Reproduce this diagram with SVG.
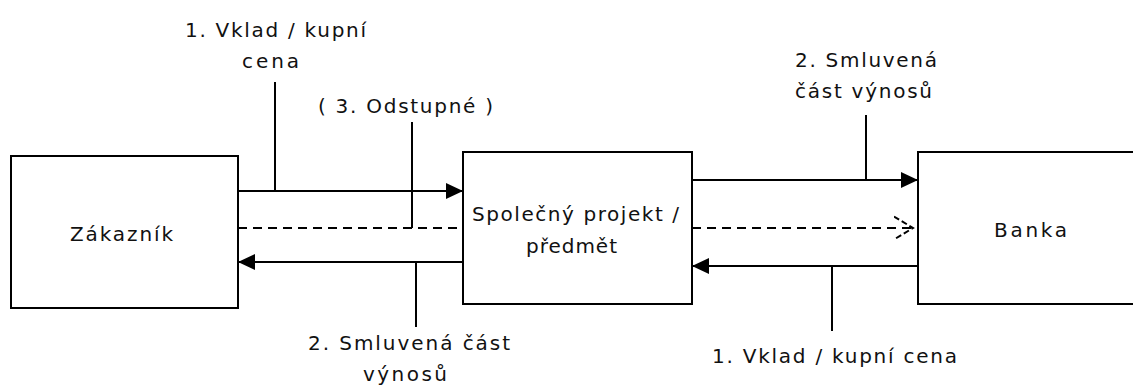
<svg xmlns="http://www.w3.org/2000/svg" width="1133" height="385" viewBox="0 0 1133 385">
  <defs>
    <style>
      .box { fill: #ffffff; stroke: #000000; stroke-width: 2; }
      .flow { fill: none; stroke: #000000; stroke-width: 2; }
      .dash { fill: none; stroke: #000000; stroke-width: 2; stroke-dasharray: 9 6; }
      .lbl { font-family: "DejaVu Sans", "Liberation Sans", Arial, sans-serif; font-size: 20px; fill: #111111; }
    </style>
    <marker id="solidHead" viewBox="0 0 17 17" markerWidth="17" markerHeight="17" refX="17" refY="8.5" orient="auto" markerUnits="userSpaceOnUse">
      <path d="M0,0.5 L17,8.5 L0,16.5 Z" fill="#000000"/>
    </marker>
    <marker id="openHead" viewBox="0 0 26 26" markerWidth="26" markerHeight="26" refX="24" refY="13" orient="auto" markerUnits="userSpaceOnUse">
      <path d="M0,1.5 L19,13 L0,24.5" fill="none" stroke="#000000" stroke-width="2" stroke-dasharray="6 3"/>
    </marker>
  </defs>

  <rect width="1133" height="385" fill="#ffffff"/>

  <!-- participants -->
  <g id="node-zakaznik">
    <rect class="box" x="11" y="156" width="227" height="152"/>
    <text class="lbl" x="70" y="241" textLength="103" lengthAdjust="spacing">Zákazník</text>
  </g>
  <g id="node-projekt">
    <rect class="box" x="463" y="152" width="229" height="152"/>
    <text class="lbl" x="472" y="221" textLength="207" lengthAdjust="spacing">Společný projekt /</text>
    <text class="lbl" x="526" y="253" textLength="91" lengthAdjust="spacing">předmět</text>
  </g>
  <g id="node-banka">
    <rect class="box" x="918" y="152" width="224" height="152"/>
    <text class="lbl" x="994" y="237" textLength="73" lengthAdjust="spacing">Banka</text>
  </g>

  <!-- flows between participants, with their label leaders -->
  <g id="connectors">
    <!-- customer to project: deposit -->
    <line class="flow" x1="238" y1="191" x2="463" y2="191" marker-end="url(#solidHead)"/>
    <line class="flow" x1="275" y1="82" x2="275" y2="191"/>
    <!-- optional compensation, dashed through to the bank -->
    <line class="dash" x1="238" y1="228" x2="463" y2="228"/>
    <line class="dash" x1="692" y1="228" x2="918" y2="228" marker-end="url(#openHead)"/>
    <line class="flow" x1="412" y1="122" x2="412" y2="228"/>
    <!-- project to customer: share of returns -->
    <line class="flow" x1="463" y1="262" x2="238" y2="262" marker-end="url(#solidHead)"/>
    <line class="flow" x1="416" y1="262" x2="416" y2="327"/>
    <!-- project to bank: share of returns -->
    <line class="flow" x1="692" y1="180" x2="918" y2="180" marker-end="url(#solidHead)"/>
    <line class="flow" x1="866" y1="115" x2="866" y2="180"/>
    <!-- bank to project: deposit -->
    <line class="flow" x1="918" y1="266" x2="692" y2="266" marker-end="url(#solidHead)"/>
    <line class="flow" x1="832" y1="266" x2="832" y2="331"/>
  </g>

  <g id="labels">
    <text class="lbl" x="185" y="37" textLength="181" lengthAdjust="spacing">1. Vklad / kupní</text>
    <text class="lbl" x="242" y="68" textLength="57" lengthAdjust="spacing">cena</text>
    <text class="lbl" x="318" y="113" textLength="175" lengthAdjust="spacing">( 3. Odstupné )</text>
    <text class="lbl" x="795" y="67" textLength="142" lengthAdjust="spacing">2. Smluvená</text>
    <text class="lbl" x="795" y="98" textLength="137" lengthAdjust="spacing">část výnosů</text>
    <text class="lbl" x="308" y="350" textLength="202" lengthAdjust="spacing">2. Smluvená část</text>
    <text class="lbl" x="363" y="381" textLength="84" lengthAdjust="spacing">výnosů</text>
    <text class="lbl" x="712" y="363" textLength="245" lengthAdjust="spacing">1. Vklad / kupní cena</text>
  </g>
</svg>
